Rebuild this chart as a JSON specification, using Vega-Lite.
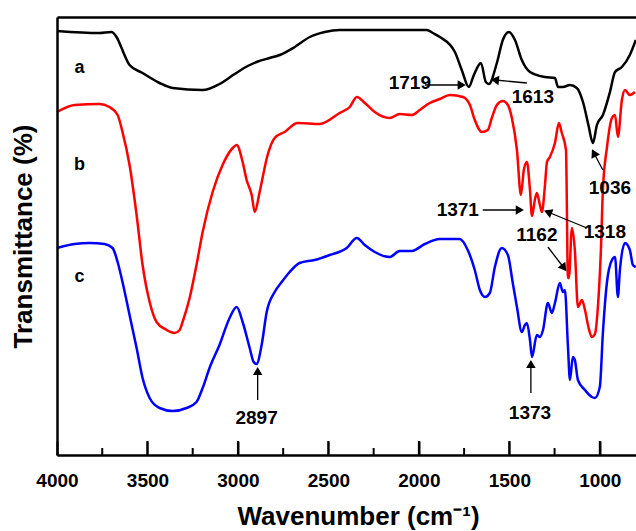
{
  "$schema": "https://vega.github.io/schema/vega-lite/v6.json",
  "width": 579,
  "height": 438,
  "autosize": {"type": "none"},
  "padding": {"left": 57, "top": 17, "right": 0, "bottom": 76},
  "background": "white",
  "config": {"view": {"stroke": null}, "font": "Liberation Sans"},
  "datasets": {
    "spectra": [
      {"s":"a","wn":4000,"t":424},{"s":"a","wn":3765,"t":422},{"s":"a","wn":3699,"t":423},{"s":"a","wn":3671,"t":418},{"s":"a","wn":3643,"t":407},{"s":"a","wn":3627,"t":400},{"s":"a","wn":3599,"t":390},{"s":"a","wn":3527,"t":382},{"s":"a","wn":3433,"t":372},{"s":"a","wn":3361,"t":367},{"s":"a","wn":3195,"t":365},{"s":"a","wn":3102,"t":371},{"s":"a","wn":3018,"t":381},{"s":"a","wn":2946,"t":389},{"s":"a","wn":2897,"t":393},{"s":"a","wn":2825,"t":397},{"s":"a","wn":2769,"t":400},{"s":"a","wn":2686,"t":408},{"s":"a","wn":2603,"t":418},{"s":"a","wn":2520,"t":423},{"s":"a","wn":2438,"t":425},{"s":"a","wn":2216,"t":425},{"s":"a","wn":1956,"t":425},{"s":"a","wn":1923,"t":422},{"s":"a","wn":1884,"t":418},{"s":"a","wn":1801,"t":403},{"s":"a","wn":1763,"t":385},{"s":"a","wn":1724,"t":368},{"s":"a","wn":1696,"t":380},{"s":"a","wn":1657,"t":392},{"s":"a","wn":1630,"t":373},{"s":"a","wn":1613,"t":371},{"s":"a","wn":1569,"t":392},{"s":"a","wn":1536,"t":415},{"s":"a","wn":1502,"t":423},{"s":"a","wn":1469,"t":415},{"s":"a","wn":1431,"t":395},{"s":"a","wn":1386,"t":383},{"s":"a","wn":1303,"t":378},{"s":"a","wn":1248,"t":377},{"s":"a","wn":1231,"t":368},{"s":"a","wn":1204,"t":368},{"s":"a","wn":1165,"t":370},{"s":"a","wn":1127,"t":367},{"s":"a","wn":1093,"t":353},{"s":"a","wn":1063,"t":330},{"s":"a","wn":1038,"t":312},{"s":"a","wn":1016,"t":330},{"s":"a","wn":983,"t":340},{"s":"a","wn":944,"t":363},{"s":"a","wn":916,"t":383},{"s":"a","wn":878,"t":388},{"s":"a","wn":834,"t":400},{"s":"a","wn":801,"t":415},
      {"s":"b","wn":4000,"t":343},{"s":"b","wn":3903,"t":350},{"s":"b","wn":3765,"t":351},{"s":"b","wn":3710,"t":348},{"s":"b","wn":3665,"t":340},{"s":"b","wn":3638,"t":323},{"s":"b","wn":3599,"t":290},{"s":"b","wn":3560,"t":240},{"s":"b","wn":3527,"t":190},{"s":"b","wn":3488,"t":153},{"s":"b","wn":3450,"t":133},{"s":"b","wn":3394,"t":125},{"s":"b","wn":3350,"t":122},{"s":"b","wn":3322,"t":125},{"s":"b","wn":3306,"t":133},{"s":"b","wn":3267,"t":157},{"s":"b","wn":3229,"t":190},{"s":"b","wn":3195,"t":223},{"s":"b","wn":3140,"t":263},{"s":"b","wn":3085,"t":290},{"s":"b","wn":3029,"t":307},{"s":"b","wn":3007,"t":310},{"s":"b","wn":2974,"t":293},{"s":"b","wn":2952,"t":275},{"s":"b","wn":2924,"t":260},{"s":"b","wn":2907,"t":243},{"s":"b","wn":2880,"t":263},{"s":"b","wn":2836,"t":300},{"s":"b","wn":2797,"t":317},{"s":"b","wn":2742,"t":323},{"s":"b","wn":2670,"t":332},{"s":"b","wn":2548,"t":331},{"s":"b","wn":2438,"t":342},{"s":"b","wn":2382,"t":348},{"s":"b","wn":2343,"t":358},{"s":"b","wn":2299,"t":352},{"s":"b","wn":2244,"t":343},{"s":"b","wn":2161,"t":337},{"s":"b","wn":2106,"t":341},{"s":"b","wn":2039,"t":340},{"s":"b","wn":1995,"t":345},{"s":"b","wn":1940,"t":352},{"s":"b","wn":1884,"t":356},{"s":"b","wn":1829,"t":360},{"s":"b","wn":1757,"t":358},{"s":"b","wn":1718,"t":350},{"s":"b","wn":1691,"t":335},{"s":"b","wn":1652,"t":323},{"s":"b","wn":1619,"t":325},{"s":"b","wn":1597,"t":337},{"s":"b","wn":1569,"t":350},{"s":"b","wn":1536,"t":354},{"s":"b","wn":1508,"t":350},{"s":"b","wn":1486,"t":337},{"s":"b","wn":1458,"t":305},{"s":"b","wn":1436,"t":260},{"s":"b","wn":1420,"t":285},{"s":"b","wn":1403,"t":293},{"s":"b","wn":1386,"t":265},{"s":"b","wn":1375,"t":239},{"s":"b","wn":1359,"t":255},{"s":"b","wn":1348,"t":262},{"s":"b","wn":1331,"t":250},{"s":"b","wn":1320,"t":243},{"s":"b","wn":1303,"t":270},{"s":"b","wn":1292,"t":293},{"s":"b","wn":1276,"t":298},{"s":"b","wn":1248,"t":312},{"s":"b","wn":1226,"t":332},{"s":"b","wn":1210,"t":322},{"s":"b","wn":1187,"t":305},{"s":"b","wn":1176,"t":177},{"s":"b","wn":1171,"t":177},{"s":"b","wn":1154,"t":227},{"s":"b","wn":1138,"t":205},{"s":"b","wn":1121,"t":148},{"s":"b","wn":1099,"t":155},{"s":"b","wn":1082,"t":145},{"s":"b","wn":1063,"t":128},{"s":"b","wn":1044,"t":118},{"s":"b","wn":1027,"t":121},{"s":"b","wn":1011,"t":147},{"s":"b","wn":994,"t":205},{"s":"b","wn":983,"t":265},{"s":"b","wn":961,"t":307},{"s":"b","wn":933,"t":337},{"s":"b","wn":916,"t":340},{"s":"b","wn":900,"t":318},{"s":"b","wn":878,"t":355},{"s":"b","wn":861,"t":365},{"s":"b","wn":834,"t":360},{"s":"b","wn":806,"t":363},
      {"s":"c","wn":4000,"t":207},{"s":"c","wn":3903,"t":211},{"s":"c","wn":3820,"t":212},{"s":"c","wn":3737,"t":211},{"s":"c","wn":3693,"t":207},{"s":"c","wn":3665,"t":193},{"s":"c","wn":3638,"t":173},{"s":"c","wn":3599,"t":140},{"s":"c","wn":3560,"t":107},{"s":"c","wn":3527,"t":77},{"s":"c","wn":3488,"t":57},{"s":"c","wn":3433,"t":47},{"s":"c","wn":3361,"t":44},{"s":"c","wn":3284,"t":47},{"s":"c","wn":3229,"t":53},{"s":"c","wn":3195,"t":67},{"s":"c","wn":3157,"t":87},{"s":"c","wn":3102,"t":110},{"s":"c","wn":3046,"t":137},{"s":"c","wn":3007,"t":148},{"s":"c","wn":2974,"t":133},{"s":"c","wn":2935,"t":107},{"s":"c","wn":2913,"t":93},{"s":"c","wn":2897,"t":91},{"s":"c","wn":2869,"t":110},{"s":"c","wn":2841,"t":143},{"s":"c","wn":2797,"t":163},{"s":"c","wn":2758,"t":173},{"s":"c","wn":2714,"t":183},{"s":"c","wn":2659,"t":192},{"s":"c","wn":2576,"t":195},{"s":"c","wn":2493,"t":200},{"s":"c","wn":2399,"t":207},{"s":"c","wn":2343,"t":217},{"s":"c","wn":2299,"t":210},{"s":"c","wn":2244,"t":203},{"s":"c","wn":2161,"t":198},{"s":"c","wn":2106,"t":204},{"s":"c","wn":2039,"t":204},{"s":"c","wn":1967,"t":211},{"s":"c","wn":1884,"t":216},{"s":"c","wn":1774,"t":216},{"s":"c","wn":1730,"t":205},{"s":"c","wn":1691,"t":185},{"s":"c","wn":1663,"t":165},{"s":"c","wn":1635,"t":158},{"s":"c","wn":1608,"t":162},{"s":"c","wn":1580,"t":188},{"s":"c","wn":1542,"t":207},{"s":"c","wn":1508,"t":200},{"s":"c","wn":1481,"t":172},{"s":"c","wn":1458,"t":148},{"s":"c","wn":1431,"t":123},{"s":"c","wn":1414,"t":130},{"s":"c","wn":1403,"t":132},{"s":"c","wn":1386,"t":115},{"s":"c","wn":1375,"t":98},{"s":"c","wn":1348,"t":120},{"s":"c","wn":1331,"t":118},{"s":"c","wn":1314,"t":125},{"s":"c","wn":1287,"t":152},{"s":"c","wn":1265,"t":142},{"s":"c","wn":1248,"t":152},{"s":"c","wn":1221,"t":172},{"s":"c","wn":1204,"t":163},{"s":"c","wn":1193,"t":165},{"s":"c","wn":1176,"t":108},{"s":"c","wn":1165,"t":75},{"s":"c","wn":1149,"t":98},{"s":"c","wn":1138,"t":95},{"s":"c","wn":1121,"t":75},{"s":"c","wn":1082,"t":65},{"s":"c","wn":1044,"t":58},{"s":"c","wn":1027,"t":57},{"s":"c","wn":1000,"t":68},{"s":"c","wn":983,"t":122},{"s":"c","wn":961,"t":172},{"s":"c","wn":933,"t":195},{"s":"c","wn":916,"t":198},{"s":"c","wn":900,"t":158},{"s":"c","wn":889,"t":185},{"s":"c","wn":861,"t":212},{"s":"c","wn":834,"t":205},{"s":"c","wn":817,"t":190},{"s":"c","wn":801,"t":188}
    ],
    "labels": [
      {"text":"a","wn":3876,"t":387,"kind":"curve"},
      {"text":"b","wn":3876,"t":290,"kind":"curve"},
      {"text":"c","wn":3876,"t":178,"kind":"curve"},
      {"text":"1719","wn":2050,"t":372,"kind":"peak"},
      {"text":"1613","wn":1370,"t":358,"kind":"peak"},
      {"text":"1036","wn":944,"t":267,"kind":"peak"},
      {"text":"1371","wn":1785,"t":245,"kind":"peak"},
      {"text":"1318","wn":972,"t":223,"kind":"peak"},
      {"text":"1162","wn":1348,"t":220,"kind":"peak"},
      {"text":"1373","wn":1386,"t":42,"kind":"peak"},
      {"text":"2897","wn":2897,"t":37,"kind":"peak"}
    ],
    "arrows": [
      {"peak":"1719","wn":1967,"t":370,"wn2":1763,"t2":370,"angle":90},
      {"peak":"1613","wn":1403,"t":372,"wn2":1580,"t2":375,"angle":276},
      {"peak":"1036","wn":983,"t":285,"wn2":1033,"t2":302,"angle":333},
      {"peak":"1371","wn":1647,"t":245,"wn2":1442,"t2":245,"angle":90},
      {"peak":"1318","wn":1071,"t":227,"wn2":1287,"t2":243,"angle":292},
      {"peak":"1162","wn":1287,"t":208,"wn2":1198,"t2":187,"angle":143},
      {"peak":"1373","wn":1381,"t":62,"wn2":1381,"t2":91,"angle":0},
      {"peak":"2897","wn":2891,"t":55,"wn2":2891,"t2":84,"angle":0}
    ],
    "tickmarks": [
      {"wn":3750,"lo":0,"hi":7},{"wn":3500,"lo":0,"hi":14},{"wn":3250,"lo":0,"hi":7},{"wn":3000,"lo":0,"hi":14},
      {"wn":2750,"lo":0,"hi":7},{"wn":2500,"lo":0,"hi":14},{"wn":2250,"lo":0,"hi":7},{"wn":2000,"lo":0,"hi":14},
      {"wn":1750,"lo":0,"hi":7},{"wn":1500,"lo":0,"hi":14},{"wn":1250,"lo":0,"hi":7},{"wn":1000,"lo":0,"hi":14}
    ]
  },
  "layer": [
    {
      "data": {"name": "spectra"},
      "mark": {"type": "line", "strokeWidth": 2.5, "interpolate": "monotone"},
      "encoding": {
        "x": {
          "field": "wn", "type": "quantitative",
          "scale": {"domain": [800, 4000], "reverse": true, "nice": false, "zero": false},
          "axis": {
            "orient": "bottom",
            "zindex": 1,
            "values": [4000, 3500, 3000, 2500, 2000, 1500, 1000],
            "format": "d",
            "ticks": true,
            "tickSize": -14,
            "tickWidth": 2,
            "tickColor": "black",
            "domainColor": "black",
            "domainWidth": 2.5,
            "grid": false,
            "labelFont": "Liberation Sans",
            "labelFontSize": 19,
            "labelFontWeight": "bold",
            "labelColor": "black",
            "labelBaseline": "alphabetic",
            "labelPadding": 45,
            "labelFlush": false,
            "labelOverlap": false,
            "title": "Wavenumber (cm⁻¹)",
            "titleFont": "Liberation Sans",
            "titleFontSize": 26,
            "titleFontWeight": "bold",
            "titleColor": "black",
            "titleAlign": "center",
            "titleBaseline": "alphabetic",
            "titleX": 301,
            "titleY": 69
          }
        },
        "y": {
          "field": "t", "type": "quantitative",
          "scale": {"domain": [0, 438], "nice": false, "zero": false},
          "axis": {
            "orient": "left",
            "zindex": 1,
            "ticks": false,
            "labels": false,
            "grid": false,
            "domainColor": "black",
            "domainWidth": 2.5,
            "title": "Transmittance (%)",
            "titleFont": "Liberation Sans",
            "titleFontSize": 26,
            "titleFontWeight": "bold",
            "titleColor": "black",
            "titlePadding": 21
          }
        },
        "color": {
          "field": "s", "type": "nominal",
          "scale": {"domain": ["a", "b", "c"], "range": ["#000000", "#ff0000", "#0000ff"]},
          "legend": null
        },
        "detail": {"field": "s"}
      }
    },
    {
      "data": {"name": "labels"},
      "mark": {"type": "text", "font": "Liberation Sans", "fontWeight": "bold", "baseline": "middle", "align": "center", "color": "black"},
      "encoding": {
        "x": {
          "field": "wn", "type": "quantitative",
          "axis": {"orient": "top", "zindex": 1, "ticks": false, "labels": false, "grid": false, "title": null, "domainColor": "black", "domainWidth": 2.5}
        },
        "y": {"field": "t", "type": "quantitative", "axis": null},
        "text": {"field": "text"},
        "size": {
          "field": "kind", "type": "nominal",
          "scale": {"domain": ["curve", "peak"], "range": [18, 19]},
          "legend": null
        }
      }
    },
    {
      "data": {"name": "arrows"},
      "mark": {"type": "rule", "color": "black", "strokeWidth": 1.3},
      "encoding": {
        "x": {"field": "wn", "type": "quantitative", "axis": null},
        "y": {"field": "t", "type": "quantitative", "axis": null},
        "x2": {"field": "wn2"},
        "y2": {"field": "t2"}
      }
    },
    {
      "data": {"name": "arrows"},
      "mark": {"type": "point", "shape": "triangle-up", "filled": true, "color": "black", "opacity": 1, "size": 90},
      "encoding": {
        "x": {"field": "wn2", "type": "quantitative", "axis": null},
        "y": {"field": "t2", "type": "quantitative", "axis": null},
        "angle": {"field": "angle", "type": "quantitative", "scale": null}
      }
    },
    {
      "data": {"name": "tickmarks"},
      "mark": {"type": "rule", "color": "black", "strokeWidth": 2},
      "encoding": {
        "x": {"field": "wn", "type": "quantitative", "axis": null},
        "x2": {"field": "wn"},
        "y": {"field": "lo", "type": "quantitative", "axis": null},
        "y2": {"field": "hi"}
      }
    }
  ],
  "resolve": {"axis": {"x": "independent", "y": "independent"}}
}
